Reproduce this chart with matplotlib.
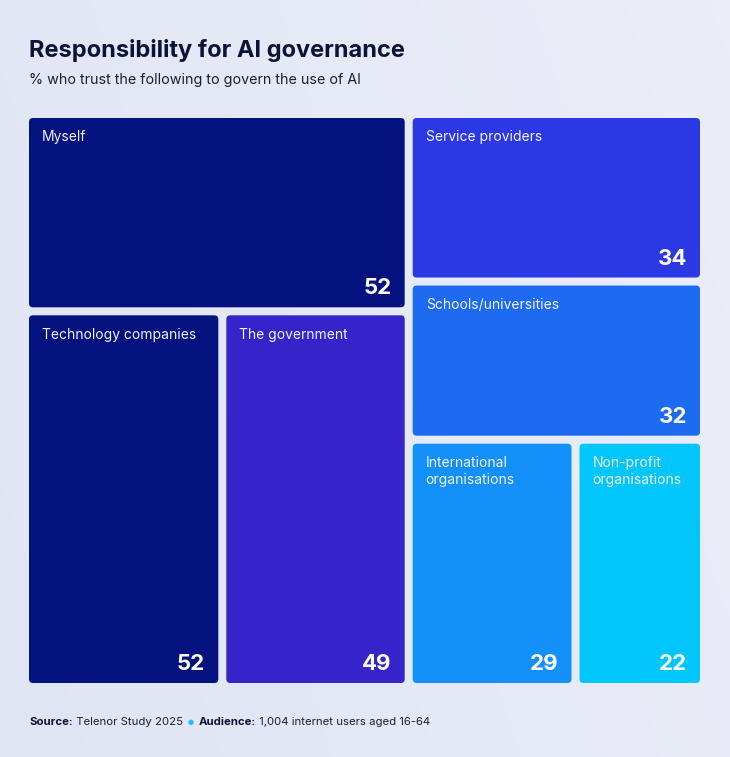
import matplotlib.pyplot as plt
import numpy as np
from matplotlib.patches import FancyBboxPatch

# data
labels = ["Myself", "Technology companies", "The government", "Service providers",
          "Schools/universities", "International\norganisations", "Non-profit\norganisations"]
values = [52, 52, 49, 34, 32, 29, 22]
colors = ["#03127F", "#03127F", "#3424C9", "#2A39E3", "#1C6BF0", "#1490FA", "#00C6FB"]

# how the tiles are nested: h = side by side, v = stacked
tree = ("h", [("v", [0, ("h", [1, 2])]), ("v", [3, 4, ("h", [5, 6])])])

plt.rcParams["font.family"] = ["Inter", "DejaVu Sans"]

W, H = 730, 757
GAP = 8
fig = plt.figure(figsize=(W / 100, H / 100), dpi=100)
fig.patch.set_facecolor("#E7EAF6")
ax = fig.add_axes([0, 0, 1, 1])
ax.set_xlim(0, W)
ax.set_ylim(H, 0)
ax.axis("off")

# soft background gradient
gx = np.linspace(0, 1, 200)
gy = np.linspace(0, 1, 200)
GX, GY = np.meshgrid(gx, gy)
bg = np.zeros((200, 200, 3))
c1 = np.array([0xE0, 0xE5, 0xF4]) / 255
c2 = np.array([0xEE, 0xF0, 0xF9]) / 255
t = np.clip(0.6 * GX + 0.2 * (1 - GY), 0, 1)[..., None]
bg[:] = c1 * (1 - t) + c2 * t
ax.imshow(bg, extent=[0, W, H, 0], aspect="auto", zorder=0)


def weight(node):
    if isinstance(node, int):
        return values[node]
    return sum(weight(n) for n in node[1])


def layout(node, x, y, w, h, out):
    if isinstance(node, int):
        out[node] = (x, y, w, h)
        return
    kind, kids = node
    ws = [weight(k) for k in kids]
    tot = sum(ws)
    if kind == "h":
        free = w - GAP * (len(kids) - 1)
        cx = x
        for k, wt in zip(kids, ws):
            kw = free * wt / tot
            layout(k, cx, y, kw, h, out)
            cx += kw + GAP
    else:
        free = h - GAP * (len(kids) - 1)
        cy = y
        for k, wt in zip(kids, ws):
            kh = free * wt / tot
            layout(k, x, cy, w, kh, out)
            cy += kh + GAP


boxes = {}
layout(tree, 29, 118, 671, 565, boxes)

for i, (x, y, w, h) in boxes.items():
    ax.add_patch(FancyBboxPatch((x, y), w, h, boxstyle="round,pad=0,rounding_size=4",
                                fc=colors[i], ec="none", zorder=2))
    ax.text(x + 13, y + 12.5, labels[i], color="#F0F2FF", fontsize=10, va="top", ha="left",
            linespacing=1.3, zorder=3)
    ax.text(x + w - 13, y + h - 13, str(values[i]), color="white", fontsize=16,
            fontweight="bold", va="baseline", ha="right", zorder=3)

ax.text(29, 51, "Responsibility for AI governance", fontsize=17, fontweight="bold",
        color="#0B1437", va="center", ha="left")
ax.text(29, 80, "% who trust the following to govern the use of AI", fontsize=10.3,
        color="#1A1F36", va="center", ha="left")

# footer pieces placed one after another
fig.canvas.draw()
r = fig.canvas.get_renderer()
parts = [("Source:", "bold", "#0B1437", 0), (" Telenor Study 2025", "normal", "#1A1F36", 0),
         ("\u25CF", "normal", "#19C2F5", 5), ("Audience:", "bold", "#0B1437", 5),
         (" 1,004 internet users aged 16-64", "normal", "#1A1F36", 0)]
cx = 29
inv = ax.transData.inverted()
for txt, fw, col, pad in parts:
    cx += pad
    fs = 5 if txt == "\u25CF" else 8.2
    tt = ax.text(cx, 722, txt, fontsize=fs, fontweight=fw, color=col, va="center", ha="left",
                 family=["DejaVu Sans"] if fs == 5 else None)
    bb = tt.get_window_extent(r)
    x0 = inv.transform((bb.x0, bb.y0))[0]
    x1 = inv.transform((bb.x1, bb.y0))[0]
    cx += x1 - x0

fig.savefig("out.png", dpi=100, facecolor=fig.get_facecolor())
